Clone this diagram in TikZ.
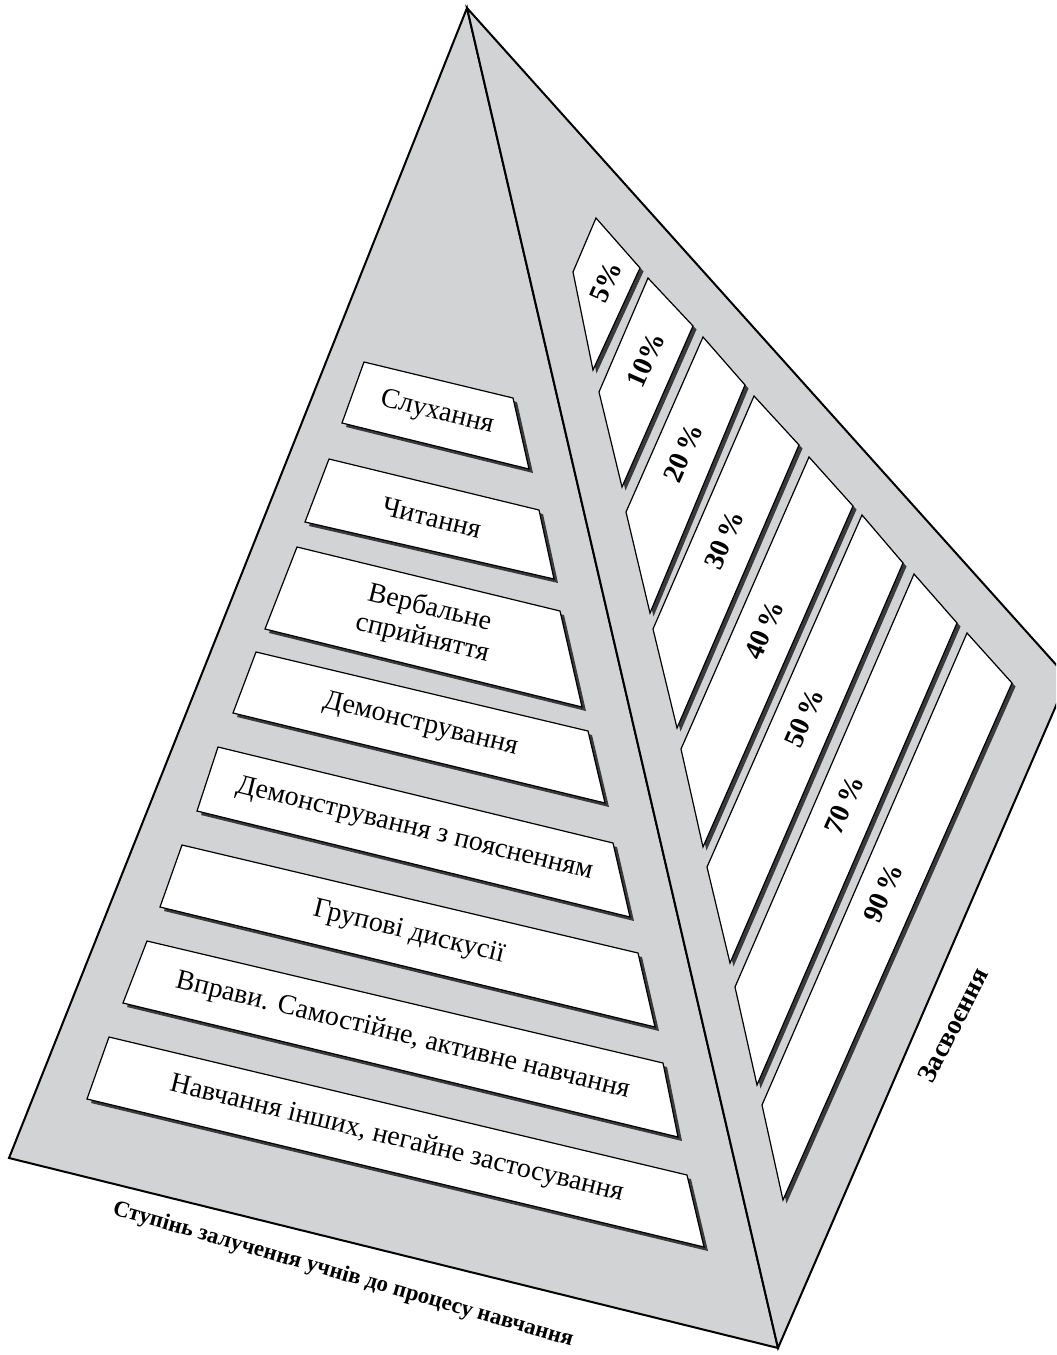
\documentclass[tikz,border=0pt]{standalone}
\usepackage{fontspec}
\setmainfont{Liberation Serif}
\usepackage{tikz}
\usetikzlibrary{calc}
\definecolor{face}{HTML}{D1D3D4}
\definecolor{shade}{HTML}{3A3A3C}

\tikzset{
  facefill/.style={fill=face, draw=black, line width=1pt, line join=miter},
  card/.style={fill=white, draw=black, line width=0.6pt},
  cardshadow/.style={fill=shade, draw=none},
  cardtext/.style={font=\fontsize{14}{15.5}\selectfont, align=center, rotate=-13.7, inner sep=0pt},
  pcttext/.style={font=\fontsize{14}{15}\selectfont\bfseries, rotate=66, inner sep=0pt},
  axistext/.style={font=\fontsize{13.5}{15}\selectfont\bfseries, inner sep=0pt}
}

\begin{document}
\begin{tikzpicture}[x=0.5pt, y=-0.5pt]
  \clip (0,0) rectangle (1056,1355);
  % pyramid faces
  \coordinate (apex)  at (467,8);
  \coordinate (left)  at (9,1158);
  \coordinate (front) at (778,1348);
  \coordinate (right) at (1068,678);
  \draw[facefill] (apex) -- (left) -- (front) -- cycle;
  \draw[facefill] (apex) -- (right) -- (front) -- cycle;
  % kinds of activity, left face
  \foreach \i/\ax/\ay/\bx/\by/\cx/\cy/\dx/\dy/\txt in {
      1/364/362/513/398/529/469/342/423/Слухання,
      2/329/459/539/510/554/579/305/522/Читання,
      3/297/547/560/611/582/707/265/629/Вербальне\\сприйняття,
      4/256/652/588/731/605/803/233/713/Демонстрування,
      5/218/747/613/843/630/917/197/811/Демонстрування з поясненням,
      6/182/845/638/953/655/1027/160/907/Групові дискусії,
      7/147/941/663/1063/678/1137/123/1003/{Вправи. Самостійне, активне навчання},
      8/109/1037/687/1175/704/1247/87/1099/{Навчання інших, негайне застосування}}{
    \fill[cardshadow, shift={(4,4)}] (\ax,\ay) -- (\bx,\by) -- (\cx,\cy) -- (\dx,\dy) -- cycle;
    \draw[card] (\ax,\ay) -- (\bx,\by) -- (\cx,\cy) -- (\dx,\dy) -- cycle;
    \node[cardtext] (way\i) at ({(\ax+\bx+\cx+\dx)/4},{(\ay+\by+\cy+\dy)/4}) {\txt};
  }
  % retention bands, right face
  \foreach \i/\ax/\ay/\bx/\by/\cx/\cy/\dx/\dy/\lx/\ly/\txt in {
      1/596/218/640/268/593/370/573/272/606/282/5\%,
      2/648/278/693/326/622/487/599/392/646/360/10\%,
      3/703/337/745/385/650/613/626/512/683/453/20\,\%,
      4/754/396/799/445/677/728/653/629/724/540/30\,\%,
      5/809/457/853/506/703/847/681/749/764/630/40\,\%,
      6/862/515/903/563/730/963/707/867/804/718/50\,\%,
      7/914/574/957/623/757/1085/735/987/844/805/70\,\%,
      8/967/633/1012/683/783/1200/762/1105/883/893/90\,\%}{
    \fill[cardshadow, shift={(3.5,3.5)}] (\ax,\ay) -- (\bx,\by) -- (\cx,\cy) -- (\dx,\dy) -- cycle;
    \draw[card] (\ax,\ay) -- (\bx,\by) -- (\cx,\cy) -- (\dx,\dy) -- cycle;
    \node[pcttext] (pct\i) at (\lx,\ly) {\txt};
  }
  % axis captions
  \node[axistext, rotate=63] (gain) at (953,1025) {Засвоєння};
  \node[axistext, font=\fontsize{11.4}{13}\selectfont\bfseries, rotate=-16] (involve) at (343,1275) {Ступінь залучення учнів до процесу навчання};
\end{tikzpicture}
\end{document}
